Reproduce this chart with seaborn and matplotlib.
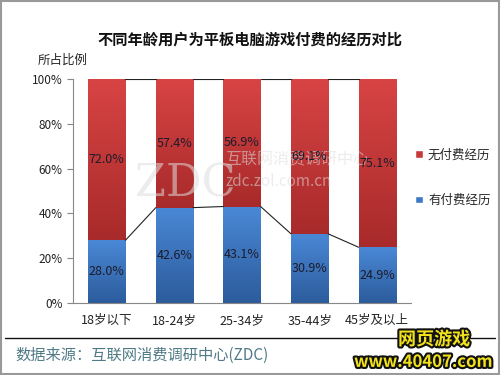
import numpy as np
import pandas as pd
import seaborn as sns
import matplotlib.pyplot as plt
import matplotlib.patheffects as pe
from matplotlib.colors import LinearSegmentedColormap

ages = ['18岁以下', '18-24岁', '25-34岁', '35-44岁', '45岁及以上']
paid = [28.0, 42.6, 43.1, 30.9, 24.9]
unpaid = [72.0, 57.4, 56.9, 69.1, 75.1]
y_ticks = [0, 20, 40, 60, 80, 100]

sns.set_style('white')
plt.rcParams['font.family'] = ['Noto Sans CJK SC', 'DejaVu Sans']

df = pd.DataFrame({'age': ages, 'paid': paid, 'unpaid': unpaid})
df['total'] = df['paid'] + df['unpaid']

fig = plt.figure(figsize=(5, 3.75), dpi=100)
ax = fig.add_axes([0.146, 0.192, 0.676, 0.597])

sns.barplot(data=df, x='age', y='total', color='#c63a3a', width=0.55,
            saturation=1, ax=ax, label='无付费经历')
sns.barplot(data=df, x='age', y='paid', color='#3f78c4', width=0.55,
            saturation=1, ax=ax, label='有付费经历')

# vertical gradients clipped to each bar
red_cm = LinearSegmentedColormap.from_list('r', ['#a82a2a', '#d84444'])
blue_cm = LinearSegmentedColormap.from_list('b', ['#2c5c9c', '#4a88d6'])
n = len(ages)
grad = np.linspace(0, 1, 256).reshape(-1, 1)
for i, p in enumerate(ax.patches[:2 * n]):
    cm = red_cm if i < n else blue_cm
    x0, w = p.get_x(), p.get_width()
    y0, h = p.get_y(), p.get_height()
    if i < n:
        y0 = paid[i]
        h = unpaid[i]
    im = ax.imshow(grad, cmap=cm, aspect='auto', origin='lower',
                   extent=[x0, x0 + w, y0, y0 + h], zorder=p.get_zorder() + 0.1)
    im.set_clip_path(p)

# series connector lines
bars = ax.patches[:n]
for i in range(n - 1):
    xa = bars[i].get_x() + bars[i].get_width()
    xb = bars[i + 1].get_x()
    ax.plot([xa, xb], [paid[i], paid[i + 1]], color='#222222', lw=0.8, zorder=5)
    ax.plot([xa, xb], [df['total'][i], df['total'][i + 1]], color='#222222', lw=0.8, zorder=5)

# value labels
for i in range(n):
    ax.text(i, paid[i] / 2, f'{paid[i]:.1f}%', ha='center', va='center',
            fontsize=9, color='#1c1c2c', zorder=6)
    ax.text(i, paid[i] + unpaid[i] / 2, f'{unpaid[i]:.1f}%', ha='center', va='center',
            fontsize=9, color='#1c1c2c', zorder=6)

ax.set_xlim(-0.5, n - 0.5)
ax.set_ylim(0, 100)
ax.set_yticks(y_ticks)
ax.set_yticklabels([f'{v}%' for v in y_ticks], fontsize=8.5, color='#222222')
ax.set_xticks(range(n))
ax.set_xticklabels(ages, fontsize=9, color='#222222')
ax.set_xlabel('')
ax.set_ylabel('')
ax.set_xticks(np.arange(-0.5, n, 1), minor=True)
ax.tick_params(axis='x', which='major', length=0, pad=8)
ax.tick_params(axis='x', which='minor', length=4, color='#888888', direction='out')
ax.tick_params(axis='y', length=4, color='#888888', direction='out', left=True)
for s in ['top', 'right']:
    ax.spines[s].set_visible(False)
for s in ['left', 'bottom']:
    ax.spines[s].set_color('#888888')
    ax.spines[s].set_linewidth(0.8)

handles, labels = ax.get_legend_handles_labels()
ax.legend(handles, labels, loc='center left', bbox_to_anchor=(0.98, 0.56), frameon=False,
          fontsize=9, handlelength=0.6, handleheight=0.6, handletextpad=0.4,
          labelspacing=2.6)

# faint watermark, under the value labels
wm = dict(transform=fig.transFigure, color='#dddddd', alpha=0.55, va='center',
          ha='left', zorder=4)
ax.text(0.27, 0.51, 'ZDC', fontsize=32, family='DejaVu Serif', **wm)
ax.text(0.45, 0.575, '互联网消费调研中心', fontsize=11.5, **wm)
ax.text(0.45, 0.515, 'zdc.zol.com.cn', fontsize=11, **wm)

fig.text(0.5, 0.895, '不同年龄用户为平板电脑游戏付费的经历对比', fontsize=11,
         fontweight='bold', ha='center', va='center', color='#111111')
fig.text(0.075, 0.84, '所占比例', fontsize=9, ha='left', va='center', color='#222222')

# footer
fig.add_artist(plt.Line2D([0.01, 0.99], [0.098, 0.098], color='#111111', lw=1))
fig.text(0.03, 0.052, '数据来源：互联网消费调研中心(ZDC)', fontsize=11,
         color='#4f7a86', ha='left', va='center')
stroke = [pe.withStroke(linewidth=3, foreground='#111111')]
fig.text(0.94, 0.095, '网页游戏', fontsize=13, fontweight='bold', color='#f2e21a',
         ha='right', va='center', path_effects=stroke)
fig.text(0.985, 0.035, 'www.40407.com', fontsize=12, fontweight='bold', style='italic',
         color='#f2e21a', ha='right', va='center', path_effects=stroke)

# border
fig.add_artist(plt.Rectangle((0.002, 0.002), 0.996, 0.995, fill=False,
                             edgecolor='#999999', lw=1.5, transform=fig.transFigure))

fig.savefig('out.png', dpi=100)
